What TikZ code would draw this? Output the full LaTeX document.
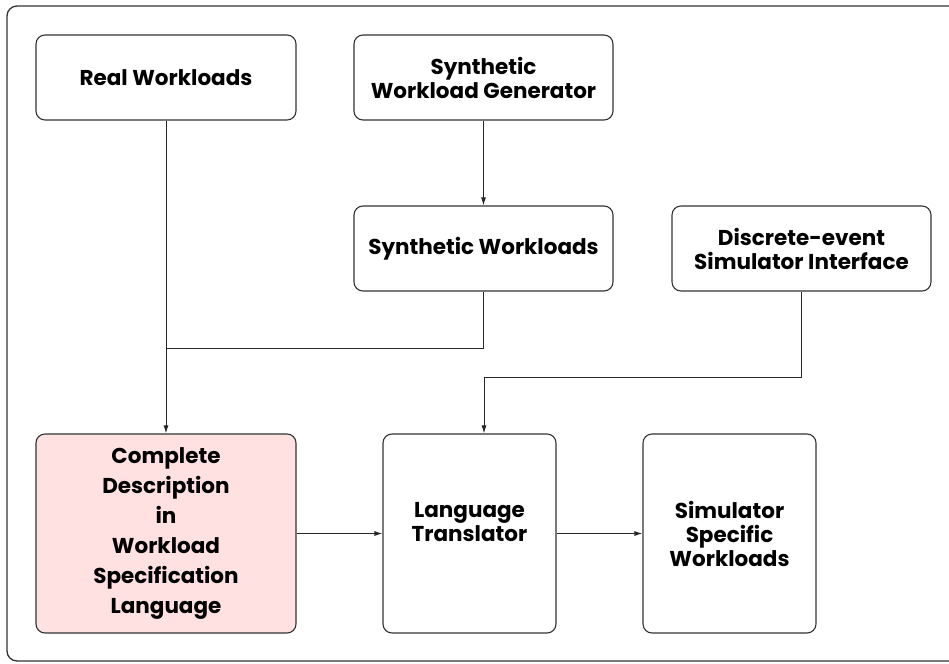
\documentclass[tikz,border=0pt]{standalone}
\usepackage{fontspec}
\setmainfont{Poppins}
\usetikzlibrary{arrows.meta}
\definecolor{pinkfill}{HTML}{FFE1E1}
\begin{document}
\begin{tikzpicture}[x=1pt,y=-1pt,
 box/.style={draw=black!80, line width=1.1pt, rounded corners=9pt, inner sep=0pt, align=center, font=\fontsize{21.5}{24}\selectfont\bfseries},
 txt/.style={inner sep=0pt, align=center, font=\fontsize{21.5}{24}\selectfont\bfseries},
 conn/.style={draw=black!85, line width=1pt},
 arr/.style={conn,-{Latex[length=8pt,width=5pt]}}]
\useasboundingbox (0,0) rectangle (949,663);
\draw[black!80,line width=1.3pt,rounded corners=10pt] (7,6) rectangle (975,661);
\node[box, minimum width=260pt, minimum height=85pt] (real) at (166,77.5) {Real Workloads};
\node[box, minimum width=259pt, minimum height=85pt] (gen) at (483.5,77.5) {Synthetic\\Workload Generator};
\node[box, minimum width=259pt, minimum height=85pt] (syn) at (483.5,248.5) {Synthetic Workloads};
\node[box, minimum width=259pt, minimum height=85pt] (des) at (801.5,248.5) {Discrete-event\\Simulator Interface};
\node[box, fill=pinkfill, minimum width=260pt, minimum height=199pt, font=\fontsize{21.5}{30}\selectfont\bfseries] (comp) at (166,533.5) {Complete\\Description\\in\\Workload\\Specification\\Language};
\node[box, minimum width=173pt, minimum height=199pt] (lang) at (469.5,533.5) {};
\node[txt] (langtxt) at (469.5,522) {Language\\Translator};
\node[box, minimum width=173pt, minimum height=199pt] (sim) at (729.5,533.5) {Simulator\\Specific\\Workloads};
\coordinate (j1) at (166,348);
\coordinate (j2) at (484,377);
\draw[arr] (real.south) -- (comp.north);
\draw[conn] (syn.south) |- (j1);
\draw[arr] (gen.south) -- (syn.north);
\draw[conn] (des.south) |- (j2);
\draw[arr] (j2) -- (j2 |- lang.north);
\draw[arr] (comp.east) -- (lang.west);
\draw[arr] (lang.east) -- (sim.west);
\end{tikzpicture}
\end{document}
